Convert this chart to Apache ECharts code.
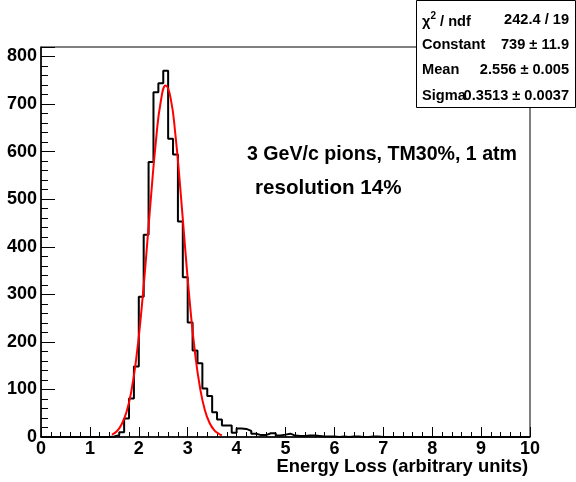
<!DOCTYPE html>
<html>
<head>
<meta charset="utf-8">
<script src="https://cdn.jsdelivr.net/npm/echarts@6/dist/echarts.min.js"></script>
<style>
html,body{margin:0;padding:0;background:#fff;}
#chart{width:576px;height:482px;}
</style>
</head>
<body>
<div id="chart"></div>
<script>
// ---- data ----
const binWidth = 0.1;
const xStart = 0;
const counts = [
  0,0,0,0,0,0,0,0,0,0,            // 0.0 - 1.0
  0,0,0,0,1,4,10,39,81,148,       // 1.0 - 2.0
  295,425,578,725,744,770,627,594,453,336,  // 2.0 - 3.0
  241,182,155,102,86,52,37,24,24,9,         // 3.0 - 4.0
  18,17,13,7,4,4,8,8,3,5,         // 4.0 - 5.0
  7,3,2,2,3,3,2,1,1,1,            // 5.0 - 6.0
  0,1,0,1,1,0,0,1,1,0,            // 6.0 - 7.0
  0,0,0,0,0,0,0,0,0,0,            // 7.0 - 8.0
  0,0,0,0,0,0,0,0,0,0,            // 8.0 - 9.0
  0,0,0,0,0,0,0,0,0,0             // 9.0 - 10.0
];
const fitX = [1.45,1.55,1.65,1.75,1.85,1.95,2.05,2.15,2.25,2.35,2.45,2.55,2.65,2.75,2.85,2.95,3.05,3.15,3.25,3.35,3.45,3.55,3.65,3.70];
const fitY = [5,12,27,53,98,167,262,379,506,622,706,739,713,634,521,394,275,177,105,57,29,13.5,5.8,3.7];
const xTicks = [0,1,2,3,4,5,6,7,8,9,10];
const yTicks = [0,100,200,300,400,500,600,700,800];
const statNames = ['{t|χ}{s|2}{t| / ndf}', 'Constant', 'Mean', 'Sigma'];
const statValues = ['242.4 / 19', '739 ± 11.9', '2.556 ± 0.005', '0.3513 ± 0.0037'];
const noteLines = ['3 GeV/c pions, TM30%, 1 atm', 'resolution 14%'];
const xTitle = 'Energy Loss (arbitrary units)';

// ---- build series ----
const histData = counts.map((c, i) => [xStart + i * binWidth, c]);
histData.push([xStart + counts.length * binWidth, counts[counts.length - 1]]);
const fitData = fitX.map((x, i) => [x, fitY[i]]);

const FONT = '"Liberation Sans", Arial, Helvetica, sans-serif';
const chart = echarts.init(document.getElementById('chart'), null, {renderer: 'canvas'});

const statRowsY = [20, 45, 70, 96];
const statFont = 'bold 14.6px ' + FONT;
const graphics = [
  {type: 'rect', left: 416, top: 0, shape: {width: 159, height: 107},
   style: {fill: '#fff', stroke: '#000', lineWidth: 1}, z: 100},
];
statNames.forEach((n, i) => {
  graphics.push({type: 'text', x: 422, y: statRowsY[i], z: 101,
    style: {text: n, font: statFont, fill: '#000', textVerticalAlign: 'middle', textAlign: 'left',
      rich: {
        t: {font: statFont, fill: '#000', verticalAlign: 'bottom', lineHeight: 18},
        s: {font: 'bold 10px ' + FONT, fill: '#000', verticalAlign: 'top', lineHeight: 18, padding: [0, 0, 6, 0]}
      }}});
  graphics.push({type: 'text', x: 569, y: statRowsY[i], z: 101,
    style: {text: statValues[i], font: statFont, fill: '#000', textVerticalAlign: 'middle', textAlign: 'right'}});
});
graphics.push({type: 'text', x: 247, y: 155, z: 101,
  style: {text: noteLines[0], font: 'bold 19.6px ' + FONT, fill: '#000', textVerticalAlign: 'middle', textAlign: 'left'}});
graphics.push({type: 'text', x: 255, y: 188, z: 101,
  style: {text: noteLines[1], font: 'bold 20.6px ' + FONT, fill: '#000', textVerticalAlign: 'middle', textAlign: 'left'}});
graphics.push({type: 'text', x: 528, y: 467, z: 101,
  style: {text: xTitle, font: 'bold 18.4px ' + FONT, fill: '#000', textVerticalAlign: 'middle', textAlign: 'right'}});

chart.setOption({
  animation: false,
  backgroundColor: '#fff',
  grid: {left: 41, right: 46, top: 47, bottom: 45, show: true, borderColor: '#000', borderWidth: 1, backgroundColor: 'transparent'},
  xAxis: {
    type: 'value', min: xTicks[0], max: xTicks[xTicks.length - 1], interval: 1,
    axisLine: {show: true, onZero: false, lineStyle: {color: '#000', width: 1.5}},
    axisTick: {show: true, inside: true, length: 10, lineStyle: {color: '#000', width: 1}},
    minorTick: {show: true, splitNumber: 5, length: 5, lineStyle: {color: '#000', width: 1}},
    splitLine: {show: false},
    axisLabel: {color: '#000', fontFamily: FONT, fontWeight: 'bold', fontSize: 18, margin: 3}
  },
  yAxis: {
    type: 'value', min: yTicks[0], max: 820, interval: 100,
    axisLine: {show: true, onZero: false, lineStyle: {color: '#000', width: 1.5}},
    axisTick: {show: true, inside: true, length: 14, lineStyle: {color: '#000', width: 1}},
    minorTick: {show: true, splitNumber: 5, length: 7, lineStyle: {color: '#000', width: 1}},
    splitLine: {show: false},
    axisLabel: {color: '#000', fontFamily: FONT, fontWeight: 'bold', fontSize: 18, margin: 4, showMaxLabel: false,
      formatter: v => (yTicks.indexOf(v) >= 0 ? String(v) : '')}
  },
  series: [
    {type: 'line', data: histData, step: 'end', symbol: 'none', z: 3,
     lineStyle: {color: '#000', width: 2}},
    {type: 'line', data: fitData, smooth: true, symbol: 'none', z: 4,
     lineStyle: {color: '#ff0000', width: 2}}
  ],
  graphic: graphics
});
</script>
</body>
</html>
